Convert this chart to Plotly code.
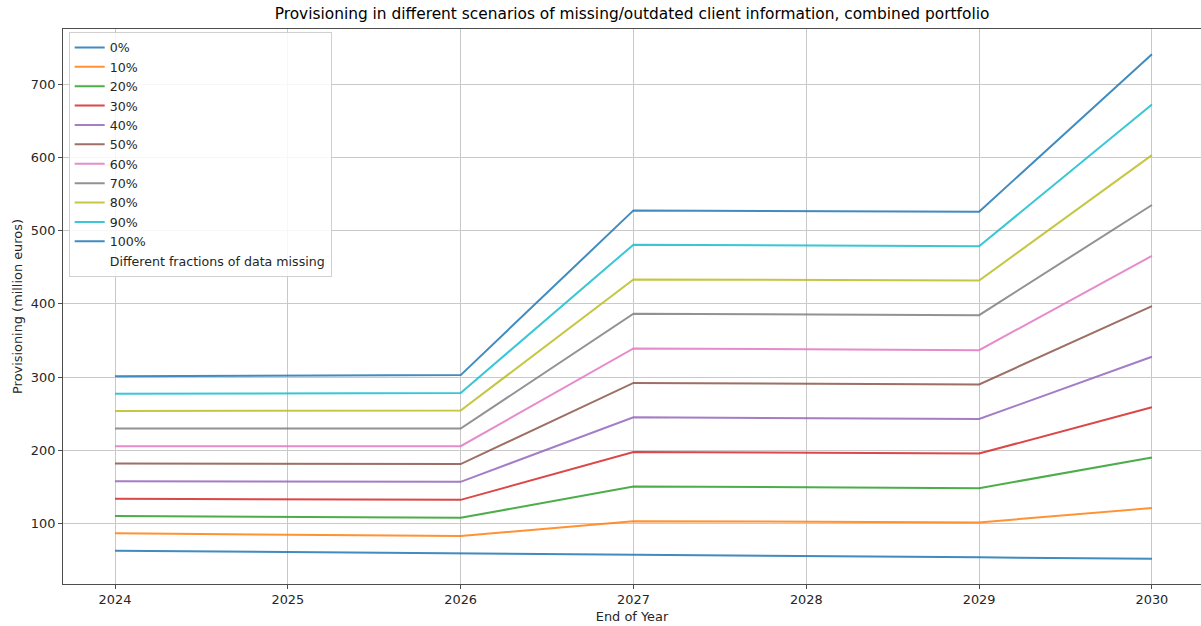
import plotly.graph_objects as go

# End-of-year points where provisioning was computed
years = [2024, 2026, 2027, 2029, 2030]

# Fraction of client data missing, per scenario
scenarios = ["0%", "10%", "20%", "30%", "40%", "50%", "60%", "70%", "80%", "90%", "100%"]

# Provisioning (million euros) for each scenario
prov_0 = [62.6, 58.6, 57.2, 53.6, 51.7]
prov_10 = [86.4, 82.7, 103.1, 101.4, 120.9]
prov_20 = [110.0, 107.6, 150.5, 148.2, 190.0]
prov_30 = [133.6, 132.2, 197.7, 195.5, 258.7]
prov_40 = [157.7, 156.8, 245.0, 242.7, 327.8]
prov_50 = [181.8, 181.1, 292.0, 290.0, 396.9]
prov_60 = [205.5, 205.5, 339.2, 336.8, 465.6]
prov_70 = [229.6, 229.6, 386.5, 384.6, 535.2]
prov_80 = [253.6, 254.2, 433.5, 431.9, 603.4]
prov_90 = [277.3, 278.2, 481.0, 478.7, 672.4]
prov_100 = [301.0, 302.7, 527.8, 526.0, 741.2]

series = [prov_0, prov_10, prov_20, prov_30, prov_40, prov_50,
          prov_60, prov_70, prov_80, prov_90, prov_100]

colors = ["#1f77b4", "#ff7f0e", "#2ca02c", "#d62728", "#9467bd", "#8c564b",
          "#e377c2", "#7f7f7f", "#bcbd22", "#17becf", "#1f77b4"]

x_ticks = [2024, 2025, 2026, 2027, 2028, 2029, 2030]
y_ticks = [100, 200, 300, 400, 500, 600, 700]

FONT = "DejaVu Sans"
TEXT = "#262626"
FS = 12.9

fig = go.Figure()
for name, vals, col in zip(scenarios, series, colors):
    fig.add_trace(go.Scatter(
        x=years, y=vals, name=name, mode="lines",
        line=dict(color=col, width=2), opacity=0.85,
    ))

# Legend caption entry without a visible line
fig.add_trace(go.Scatter(
    x=[None], y=[None], name="Different fractions of data missing", mode="lines",
    line=dict(color="rgba(0,0,0,0)", width=2),
))

axis_common = dict(
    showgrid=True, gridcolor="#c9c9c9", gridwidth=1,
    showline=True, linecolor="#4d4d4d", linewidth=1,
    ticks="outside", ticklen=4, tickcolor="#4d4d4d",
    tickfont=dict(family=FONT, size=FS, color=TEXT),
    zeroline=False,
)

fig.update_layout(
    width=1201, height=626,
    margin=dict(l=63, r=0, t=29, b=42),
    paper_bgcolor="white", plot_bgcolor="white",
    font=dict(family=FONT, size=FS, color=TEXT),
    title=dict(
        text="Provisioning in different scenarios of missing/outdated client information, combined portfolio",
        x=0.5, xref="paper", xanchor="center", y=0.978, yanchor="middle",
        font=dict(family=FONT, size=15.4, color="black"),
    ),
    xaxis=dict(
        range=[2023.699, 2030.284], tickvals=x_ticks,
        ticktext=[str(v) for v in x_ticks], mirror=True,
        title=dict(text="End of Year", font=dict(family=FONT, size=FS, color=TEXT), standoff=5),
        **axis_common,
    ),
    yaxis=dict(
        range=[17.2, 775.7], tickvals=y_ticks,
        ticktext=[str(v) for v in y_ticks],
        title=dict(text="Provisioning (million euros)", font=dict(family=FONT, size=FS, color=TEXT), standoff=5),
        **axis_common,
    ),
    legend=dict(
        x=0.005, y=0.995, xanchor="left", yanchor="top",
        bgcolor="rgba(255,255,255,0.85)", bordercolor="#d0d0d0", borderwidth=1,
        font=dict(family=FONT, size=12.6, color=TEXT),
        tracegroupgap=0, itemwidth=30,
    ),
    showlegend=True,
)

fig.write_html("out.html")
